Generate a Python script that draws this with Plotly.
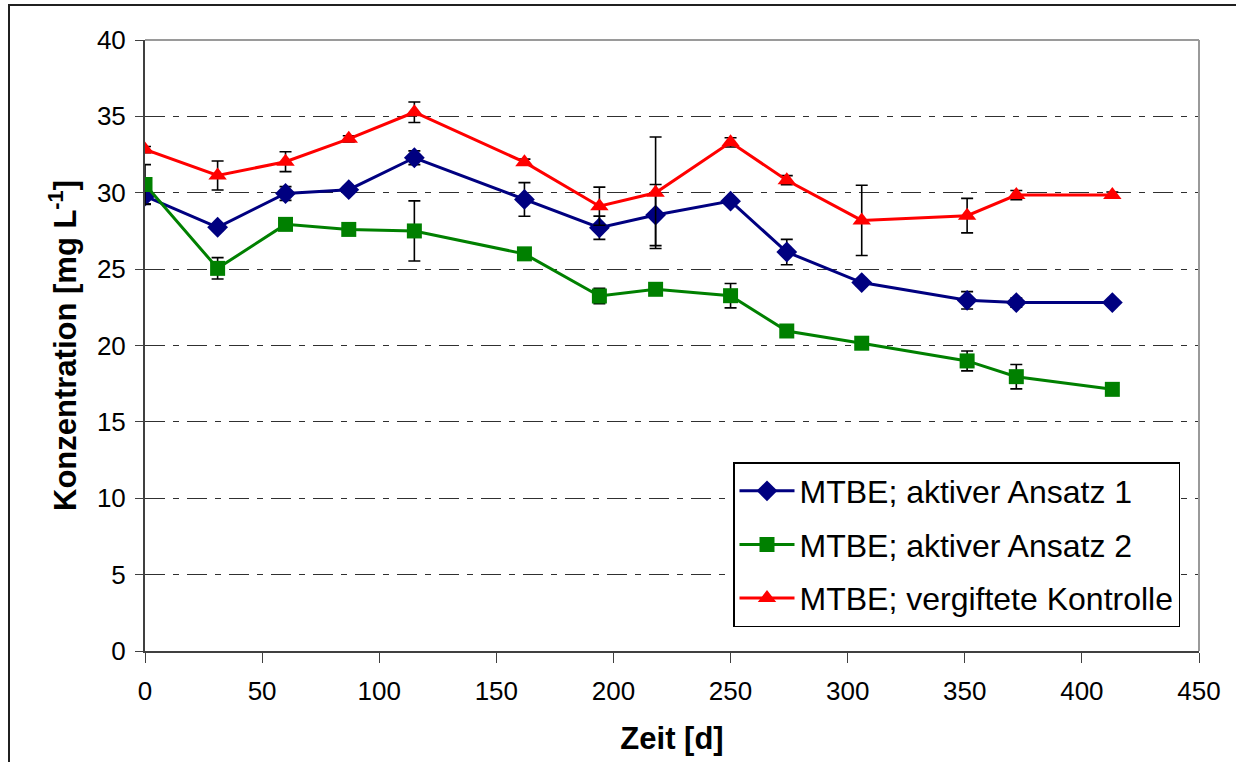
import plotly.graph_objects as go

# Data
zeit = [0, 31, 60, 87, 115, 162, 194, 218, 250, 274, 306, 351, 372, 413]

ansatz1 = [29.78, 27.74, 29.95, 30.2, 32.29, 29.56, 27.71, 28.54, 29.45, 26.12, 24.12, 22.96, 22.81, 22.81]
ansatz1_err = [0.5, 0.2, 0.45, 0.2, 0.45, 1.1, 0.76, 2.0, 0.2, 0.83, 0.2, 0.57, 0.3, 0.1]

ansatz2 = [30.54, 25.05, 27.93, 27.6, 27.5, 26.0, 23.24, 23.68, 23.26, 20.95, 20.15, 18.99, 17.96, 17.13]
ansatz2_err = [1.3, 0.7, 0.2, 0.3, 1.97, 0.2, 0.5, 0.2, 0.8, 0.2, 0.2, 0.65, 0.8, 0.1]

kontrolle = [32.83, 31.13, 32.03, 33.53, 35.27, 32.0, 29.12, 30.0, 33.3, 30.82, 28.19, 28.5, 29.85, 29.85]
kontrolle_err = [0.2, 0.95, 0.65, 0.2, 0.67, 0.2, 1.25, 3.65, 0.3, 0.3, 2.3, 1.13, 0.3, 0.2]

series_names = ["MTBE; aktiver Ansatz 1", "MTBE; aktiver Ansatz 2", "MTBE; vergiftete Kontrolle"]
y_ticks = [0, 5, 10, 15, 20, 25, 30, 35, 40]
x_ticks = [0, 50, 100, 150, 200, 250, 300, 350, 400, 450]

FONT = "Liberation Sans, Arial, sans-serif"

fig = go.Figure()

def add(name, y, err, color, symbol, size, grp):
    fig.add_trace(go.Scatter(
        x=zeit, y=y, name=name, mode="lines+markers",
        line=dict(color=color, width=3),
        marker=dict(color=color, symbol=symbol, size=size, line=dict(width=0)),
        error_y=dict(type="data", array=err, visible=True, color="black",
                     thickness=1.6, width=6),
        legendgroup=grp,
    ))

add(series_names[0], ansatz1, ansatz1_err, "#000080", "diamond", 16, "a")
add(series_names[1], ansatz2, ansatz2_err, "#008000", "square", 15, "b")
add(series_names[2], kontrolle, kontrolle_err, "#FF0000", "triangle-up", 16, "c")

L, R, T, B = 145, 1199, 40, 651
W, H = 1236, 762

fig.update_layout(
    width=W, height=H,
    margin=dict(l=L, r=W - R, t=T, b=H - B, autoexpand=False),
    paper_bgcolor="white", plot_bgcolor="white",
    font=dict(family=FONT, color="black", size=26),
    showlegend=True,
    legend=dict(
        x=(733 - L) / (R - L), y=(B - 462) / (B - T), xanchor="left", yanchor="top",
        bgcolor="white", bordercolor="black", borderwidth=1.5,
        font=dict(family=FONT, size=32, color="black"),
        tracegroupgap=9, itemwidth=55,
    ),
    xaxis=dict(
        range=[0, 450], tickvals=x_ticks, ticktext=[str(v) for v in x_ticks],
        showgrid=False, zeroline=False,
        showline=True, linecolor="#404040", linewidth=2,
        ticks="outside", ticklen=10, tickwidth=1, tickcolor="#404040",
        tickfont=dict(family=FONT, size=26), ticklabelstandoff=6,
        title=dict(text="<b>Zeit [d]</b>", font=dict(family=FONT, size=31), standoff=22),
    ),
    yaxis=dict(
        range=[0, 40], tickvals=y_ticks, ticktext=[str(v) for v in y_ticks],
        showgrid=True, gridcolor="#303030", gridwidth=1, griddash="20px,8px,6px,8px",
        zeroline=False,
        showline=True, linecolor="#404040", linewidth=2,
        ticks="outside", ticklen=8, tickwidth=1, tickcolor="#404040",
        tickfont=dict(family=FONT, size=26), ticklabelstandoff=4,
        title=dict(text="<b>Konzentration [mg L<sup>-1</sup>]</b>", font=dict(family=FONT, size=31), standoff=11),
    ),
)

# plot-area border (top and right) in grey
fig.add_shape(type="line", xref="paper", yref="paper", x0=0, x1=1, y0=1, y1=1,
              line=dict(color="#9a9a9a", width=2), layer="above")
fig.add_shape(type="line", xref="paper", yref="paper", x0=1, x1=1, y0=0, y1=1,
              line=dict(color="#9a9a9a", width=2), layer="above")
# chart-area border
fig.add_shape(type="rect", xref="paper", yref="paper",
              x0=(9 - L) / (R - L), x1=(1245 - L) / (R - L),
              y0=(B - 775) / (B - T), y1=(B - 5) / (B - T),
              line=dict(color="#202020", width=2), layer="below")

fig.write_html("out.html", config={"displayModeBar": False},
               post_script="document.body.style.margin='0';document.body.style.overflow='hidden';")
